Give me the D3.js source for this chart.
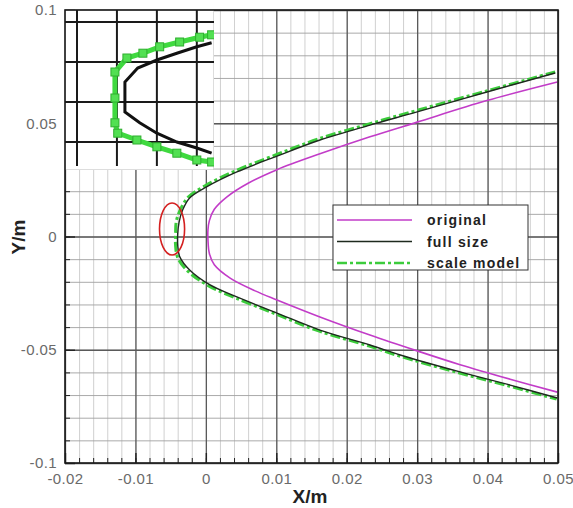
<!DOCTYPE html>
<html>
<head>
<meta charset="utf-8">
<script src="https://cdn.jsdelivr.net/npm/d3@7"></script>
<style>
    body { margin: 0; background: #fff; }
    text { font-family: "Liberation Sans", Arial, sans-serif; }
</style>
</head>
<body>
<div id="chart"></div>
<script>
// main chart data (x, y in metres)
let originalX = [0.0499, 0.0399, 0.0300, 0.0233, 0.0162, 0.0101, 0.0060, 0.0030, 0.0012, 0.0005, 0.0003, 0.0003, 0.0005, 0.0012, 0.0035, 0.0070, 0.0101, 0.0162, 0.0233, 0.0300, 0.0361, 0.0432, 0.0499];
let originalY = [0.0682, 0.0600, 0.0505, 0.0440, 0.0365, 0.0295, 0.0235, 0.0175, 0.0120, 0.0070, 0.0030, -0.0015, -0.0075, -0.0125, -0.0185, -0.0240, -0.0280, -0.0355, -0.0435, -0.0505, -0.0566, -0.0630, -0.0687];

let fullX = [0.0496, 0.0399, 0.0300, 0.0233, 0.0162, 0.0101, 0.0044, 0.0001, -0.0023, -0.0033, -0.0038, -0.0040, -0.0040, -0.0037, -0.0023, 0.0006, 0.0044, 0.0101, 0.0162, 0.0233, 0.0276, 0.0361, 0.0432, 0.0499];
let fullY = [0.0722, 0.0638, 0.0550, 0.0492, 0.0426, 0.0355, 0.0285, 0.0219, 0.0170, 0.0117, 0.0064, 0.0011, -0.0038, -0.0090, -0.0148, -0.0214, -0.0267, -0.0338, -0.0413, -0.0479, -0.0523, -0.0598, -0.0656, -0.0713];

let scaleX = [0.0496, 0.0399, 0.0299, 0.0232, 0.0160, 0.0099, 0.0042, -0.0001, -0.0025, -0.0036, -0.0042, -0.0043, -0.0043, -0.0040, -0.0026, 0.0004, 0.0042, 0.0099, 0.0160, 0.0231, 0.0274, 0.0359, 0.0430, 0.0498];
let scaleY = [0.0727, 0.0643, 0.0556, 0.0497, 0.0431, 0.0360, 0.0290, 0.0224, 0.0174, 0.0120, 0.0066, 0.0011, -0.0040, -0.0093, -0.0152, -0.0218, -0.0271, -0.0342, -0.0417, -0.0483, -0.0527, -0.0602, -0.0660, -0.0718];

// zoomed inset data
let insetFullX = [-0.00163, -0.0020, -0.0025, -0.0030, -0.00348, -0.0038, -0.0038, -0.00343, -0.0030, -0.0025, -0.0020, -0.00163];
let insetFullY = [0.0074, 0.0069, 0.0061, 0.00525, 0.00425, 0.0025, -0.00125, -0.0026, -0.0039, -0.0050, -0.00575, -0.0064];
let insetScaleX = [-0.00163, -0.00193, -0.00243, -0.00293, -0.00335, -0.00375, -0.00405, -0.00405, -0.00405, -0.00398, -0.0035, -0.0030, -0.0025, -0.0020, -0.00163];
let insetScaleY = [0.0084, 0.0081, 0.0075, 0.0069, 0.0061, 0.0055, 0.00375, 0.0005, -0.0026, -0.0039, -0.00475, -0.0056, -0.0064, -0.00725, -0.0075];

// red marker ellipse (centre x, centre y, half width, half height)
let ellipseData = [-0.0048, 0.0033, 0.00178, 0.0115];

let xTicks = [-0.02, -0.01, 0, 0.01, 0.02, 0.03, 0.04, 0.05];
let xTickLabels = ["-0.02", "-0.01", "0", "0.01", "0.02", "0.03", "0.04", "0.05"];
let yTicks = [-0.1, -0.05, 0, 0.05, 0.1];
let yTickLabels = ["-0.1", "-0.05", "0", "0.05", "0.1"];
let legendNames = ["original", "full size", "scale model"];
let insetXGrid = [-0.005, -0.004, -0.003, -0.002];
let insetYGrid = [0.01, 0.005, 0, -0.005];

let width = 573, height = 508;
let padL = 65, padR = 558, padT = 10, padB = 463;
let insetR = 214, insetB = 170;

let svg = d3.select("#chart").append("svg")
    .attr("width", width)
    .attr("height", height);

let x = d3.scaleLinear().domain([-0.02, 0.05]).range([padL, padR]);
let y = d3.scaleLinear().domain([-0.1, 0.1]).range([padB, padT]);

let xMinor = d3.range(-0.02, 0.0501, 0.002);
let yMinor = d3.range(-0.1, 0.1001, 0.01);

// grid: minor first, then major
svg.append("g")
    .attr("transform", "translate(0," + padB + ")")
    .call(d3.axisBottom(x).tickValues(xMinor).tickSize(-(padB - padT)).tickFormat(""))
    .call(g => g.select(".domain").remove())
    .selectAll("line").attr("stroke", "#c4c4c4").attr("stroke-width", 0.8);

svg.append("g")
    .attr("transform", "translate(" + padL + ",0)")
    .call(d3.axisLeft(y).tickValues(yMinor).tickSize(-(padR - padL)).tickFormat(""))
    .call(g => g.select(".domain").remove())
    .selectAll("line").attr("stroke", "#a0a0a0").attr("stroke-width", 0.9);

svg.append("g")
    .attr("transform", "translate(0," + padB + ")")
    .call(d3.axisBottom(x).tickValues(xTicks).tickSize(-(padB - padT)).tickFormat(""))
    .call(g => g.select(".domain").remove())
    .selectAll("line").attr("stroke", "#5a5a5a").attr("stroke-width", 1.3);

svg.append("g")
    .attr("transform", "translate(" + padL + ",0)")
    .call(d3.axisLeft(y).tickValues(yTicks).tickSize(-(padR - padL)).tickFormat(""))
    .call(g => g.select(".domain").remove())
    .selectAll("line").attr("stroke", "#5a5a5a").attr("stroke-width", 1.3);

// curves
let toPoints = (xs, ys) => xs.map((d, i) => [d, ys[i]]);
let line = d3.line().x(d => x(d[0])).y(d => y(d[1])).curve(d3.curveCatmullRom);

svg.append("path")
    .datum(toPoints(originalX, originalY))
    .attr("d", line)
    .attr("fill", "none")
    .attr("stroke", "#c23cc8")
    .attr("stroke-width", 1.6);

svg.append("path")
    .datum(toPoints(scaleX, scaleY))
    .attr("d", line)
    .attr("fill", "none")
    .attr("stroke", "#3ccc3c")
    .attr("stroke-width", 3)
    .style("stroke-dasharray", "10,3,3,3");

svg.append("path")
    .datum(toPoints(fullX, fullY))
    .attr("d", line)
    .attr("fill", "none")
    .attr("stroke", "#1e2a1e")
    .attr("stroke-width", 1.4);

// red ellipse
svg.append("ellipse")
    .attr("cx", x(ellipseData[0]))
    .attr("cy", y(ellipseData[1]))
    .attr("rx", x(ellipseData[0] + ellipseData[2]) - x(ellipseData[0]))
    .attr("ry", y(ellipseData[1]) - y(ellipseData[1] + ellipseData[3]))
    .attr("fill", "none")
    .attr("stroke", "#d42020")
    .attr("stroke-width", 1.6);

// ticks pointing inward
svg.append("g")
    .attr("transform", "translate(0," + padB + ")")
    .call(d3.axisBottom(x).tickValues(xMinor).tickSize(-5).tickFormat(""))
    .call(g => g.select(".domain").remove())
    .selectAll("line").attr("stroke", "#222");

svg.append("g")
    .attr("transform", "translate(" + padL + ",0)")
    .call(d3.axisLeft(y).tickValues(yMinor).tickSize(-5).tickFormat(""))
    .call(g => g.select(".domain").remove())
    .selectAll("line").attr("stroke", "#222");

let xAxis = svg.append("g")
    .attr("transform", "translate(0," + padB + ")")
    .call(d3.axisBottom(x).tickValues(xTicks).tickSize(-10).tickPadding(10)
        .tickFormat((d, i) => xTickLabels[i]));
xAxis.select(".domain").remove();
xAxis.selectAll("line").attr("stroke", "#222").attr("stroke-width", 1.4);
xAxis.selectAll("text")
    .style("font-size", "15px")
    .style("letter-spacing", "0.4px")
    .attr("fill", "#6a6a6a");

let yAxis = svg.append("g")
    .attr("transform", "translate(" + padL + ",0)")
    .call(d3.axisLeft(y).tickValues(yTicks).tickSize(-10).tickPadding(8)
        .tickFormat((d, i) => yTickLabels[i]));
yAxis.select(".domain").remove();
yAxis.selectAll("line").attr("stroke", "#222").attr("stroke-width", 1.4);
yAxis.selectAll("text")
    .style("font-size", "15px")
    .style("letter-spacing", "0.4px")
    .attr("fill", "#6a6a6a");

// inset (zoom of the ellipse region)
let ix = d3.scaleLinear().domain([-0.0053, -0.00157]).range([padL, insetR]);
let iy = d3.scaleLinear().domain([-0.0085, 0.0115]).range([insetB, padT]);

svg.append("clipPath").attr("id", "insetClip")
    .append("rect")
    .attr("x", padL).attr("y", padT)
    .attr("width", insetR - padL).attr("height", insetB - padT);

let inset = svg.append("g").attr("clip-path", "url(#insetClip)");

inset.append("rect")
    .attr("x", padL).attr("y", padT)
    .attr("width", insetR - padL).attr("height", insetB - padT)
    .attr("fill", "#fff")
    .attr("stroke", "#bbb");

inset.selectAll(".ivline")
    .data(insetXGrid)
    .enter().append("line")
    .attr("x1", d => ix(d)).attr("x2", d => ix(d))
    .attr("y1", padT).attr("y2", insetB - 4)
    .attr("stroke", "#1a1a1a")
    .attr("stroke-width", 2);

inset.selectAll(".ihline")
    .data(insetYGrid)
    .enter().append("line")
    .attr("x1", padL).attr("x2", insetR)
    .attr("y1", d => iy(d)).attr("y2", d => iy(d))
    .attr("stroke", "#1a1a1a")
    .attr("stroke-width", 2);

let iline = d3.line().x(d => ix(d[0])).y(d => iy(d[1]));
let insetScale = toPoints(insetScaleX, insetScaleY);

inset.append("path")
    .datum(insetScale)
    .attr("d", iline)
    .attr("fill", "none")
    .attr("stroke", "#3fd93f")
    .attr("stroke-width", 5);

inset.selectAll(".imark")
    .data(insetScale)
    .enter().append("rect")
    .attr("x", d => ix(d[0]) - 4)
    .attr("y", d => iy(d[1]) - 4)
    .attr("width", 8).attr("height", 8)
    .attr("fill", "#52e052")
    .attr("stroke", "#2fae2f");

inset.append("path")
    .datum(toPoints(insetFullX, insetFullY))
    .attr("d", iline)
    .attr("fill", "none")
    .attr("stroke", "#111")
    .attr("stroke-width", 3);

// frame
svg.append("rect")
    .attr("x", padL).attr("y", padT)
    .attr("width", padR - padL).attr("height", padB - padT)
    .attr("fill", "none")
    .attr("stroke", "#1a1a1a")
    .attr("stroke-width", 1.6);

// legend
let legendColors = ["#c23cc8", "#1e2a1e", "#3ccc3c"];
let legend = svg.append("g");

legend.append("rect")
    .attr("x", 333).attr("y", 205)
    .attr("width", 195).attr("height", 65)
    .attr("fill", "#fff")
    .attr("stroke", "#333")
    .attr("stroke-width", 1);

legendNames.forEach((name, i) => {
    let ly = 220 + i * 21.5;
    legend.append("line")
        .attr("x1", 337).attr("x2", 412)
        .attr("y1", ly).attr("y2", ly)
        .attr("stroke", legendColors[i])
        .attr("stroke-width", i === 2 ? 2.5 : 1.6)
        .style("stroke-dasharray", i === 2 ? "10,3,3,3" : null);
    legend.append("text")
        .attr("x", 427).attr("y", ly + 5)
        .text(name)
        .style("font-size", "14px")
        .style("font-weight", "bold")
        .style("letter-spacing", "1.2px")
        .attr("fill", "#222");
});

// axis titles
svg.append("text")
    .attr("x", 310).attr("y", 503)
    .attr("text-anchor", "middle")
    .text("X/m")
    .style("font-size", "19px")
    .style("font-weight", "bold")
    .attr("fill", "#222");

svg.append("text")
    .attr("transform", "translate(25,237) rotate(-90)")
    .attr("text-anchor", "middle")
    .text("Y/m")
    .style("font-size", "19px")
    .style("font-weight", "bold")
    .attr("fill", "#222");
</script>
</body>
</html>
